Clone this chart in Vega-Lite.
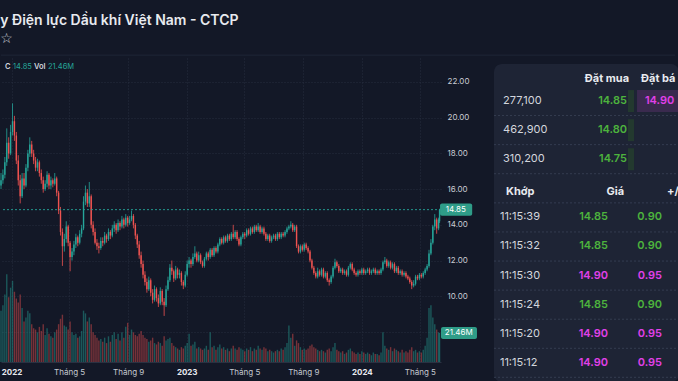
{
  "$schema": "https://vega.github.io/schema/vega-lite/v6.json",
  "padding": {"top": 13, "left": 0, "right": 0, "bottom": 0},
  "autosize": {"type": "pad"},
  "background": "#131827",
  "bounds": "flush",
  "spacing": 53,
  "title": {
    "text": "y Điện lực Dầu khí Việt Nam - CTCP",
    "subtitle": "☆",
    "anchor": "start",
    "font": "Inter",
    "fontSize": 14,
    "fontWeight": 600,
    "color": "#e8eaef",
    "subtitleFont": "DejaVu Sans",
    "subtitleFontSize": 14,
    "subtitleColor": "#d0d3da",
    "subtitlePadding": 4,
    "offset": 9
  },
  "datasets": {
    "ohlc": [
      {"d":"2021-12-10","o":16.2,"h":16.9,"l":16.0,"c":16.5,"v":38},
      {"d":"2021-12-14","o":16.5,"h":17.1,"l":16.3,"c":16.8,"v":42},
      {"d":"2021-12-18","o":16.8,"h":17.8,"l":16.6,"c":17.5,"v":50},
      {"d":"2021-12-22","o":17.5,"h":19.4,"l":17.3,"c":18.6,"v":65},
      {"d":"2021-12-26","o":18.6,"h":18.9,"l":17.7,"c":18.0,"v":48},
      {"d":"2021-12-30","o":18.0,"h":19.6,"l":17.9,"c":19.2,"v":55},
      {"d":"2022-01-03","o":19.2,"h":20.8,"l":19.0,"c":19.8,"v":60},
      {"d":"2022-01-07","o":19.8,"h":20.1,"l":18.7,"c":19.0,"v":52},
      {"d":"2022-01-11","o":19.0,"h":19.2,"l":17.4,"c":17.6,"v":47},
      {"d":"2022-01-15","o":17.6,"h":17.9,"l":16.2,"c":16.5,"v":44},
      {"d":"2022-01-19","o":16.5,"h":16.8,"l":15.2,"c":15.6,"v":50},
      {"d":"2022-01-23","o":15.6,"h":16.9,"l":15.5,"c":16.6,"v":40},
      {"d":"2022-01-27","o":16.6,"h":16.9,"l":16.0,"c":16.2,"v":30},
      {"d":"2022-01-31","o":16.2,"h":17.4,"l":16.1,"c":17.2,"v":33},
      {"d":"2022-02-04","o":17.2,"h":18.2,"l":17.0,"c":18.0,"v":38},
      {"d":"2022-02-08","o":18.0,"h":18.9,"l":17.8,"c":18.5,"v":36},
      {"d":"2022-02-12","o":18.5,"h":18.7,"l":17.8,"c":18.0,"v":28},
      {"d":"2022-02-16","o":18.0,"h":18.2,"l":17.4,"c":17.6,"v":25},
      {"d":"2022-02-20","o":17.6,"h":17.8,"l":17.0,"c":17.2,"v":24},
      {"d":"2022-02-24","o":17.2,"h":17.7,"l":17.0,"c":17.5,"v":22},
      {"d":"2022-02-28","o":17.5,"h":17.6,"l":16.7,"c":16.9,"v":26},
      {"d":"2022-03-04","o":16.9,"h":17.1,"l":16.3,"c":16.5,"v":23},
      {"d":"2022-03-08","o":16.5,"h":16.7,"l":15.8,"c":16.0,"v":28},
      {"d":"2022-03-12","o":16.0,"h":16.5,"l":15.9,"c":16.3,"v":20},
      {"d":"2022-03-16","o":16.3,"h":17.0,"l":16.1,"c":16.8,"v":25},
      {"d":"2022-03-20","o":16.8,"h":16.9,"l":16.0,"c":16.2,"v":21},
      {"d":"2022-03-24","o":16.2,"h":16.7,"l":16.0,"c":16.5,"v":19},
      {"d":"2022-03-28","o":16.5,"h":16.6,"l":16.1,"c":16.3,"v":18},
      {"d":"2022-04-01","o":16.3,"h":16.9,"l":16.2,"c":16.6,"v":22},
      {"d":"2022-04-05","o":16.6,"h":16.7,"l":15.6,"c":15.8,"v":24},
      {"d":"2022-04-09","o":15.8,"h":15.9,"l":14.6,"c":14.8,"v":28},
      {"d":"2022-04-13","o":14.8,"h":15.0,"l":13.4,"c":13.6,"v":32},
      {"d":"2022-04-17","o":13.6,"h":13.8,"l":11.7,"c":12.8,"v":35},
      {"d":"2022-04-21","o":12.8,"h":13.5,"l":12.5,"c":13.2,"v":27},
      {"d":"2022-04-25","o":13.2,"h":14.2,"l":13.0,"c":13.9,"v":26},
      {"d":"2022-04-29","o":13.9,"h":14.0,"l":12.8,"c":13.0,"v":24},
      {"d":"2022-05-03","o":13.0,"h":13.1,"l":11.4,"c":12.2,"v":30},
      {"d":"2022-05-07","o":12.2,"h":12.7,"l":12.0,"c":12.5,"v":22},
      {"d":"2022-05-11","o":12.5,"h":13.1,"l":12.3,"c":12.9,"v":20},
      {"d":"2022-05-15","o":12.9,"h":13.5,"l":12.7,"c":13.3,"v":21},
      {"d":"2022-05-19","o":13.3,"h":13.4,"l":12.8,"c":13.0,"v":18},
      {"d":"2022-05-23","o":13.0,"h":13.7,"l":12.9,"c":13.5,"v":19},
      {"d":"2022-05-27","o":13.5,"h":14.0,"l":13.3,"c":13.8,"v":23},
      {"d":"2022-05-31","o":13.8,"h":15.6,"l":13.7,"c":15.3,"v":38},
      {"d":"2022-06-04","o":15.3,"h":16.2,"l":15.1,"c":15.8,"v":36},
      {"d":"2022-06-08","o":15.8,"h":16.0,"l":15.0,"c":15.2,"v":30},
      {"d":"2022-06-12","o":15.2,"h":16.4,"l":15.0,"c":15.6,"v":33},
      {"d":"2022-06-16","o":15.6,"h":15.7,"l":13.8,"c":14.0,"v":28},
      {"d":"2022-06-20","o":14.0,"h":14.2,"l":13.4,"c":13.6,"v":22},
      {"d":"2022-06-24","o":13.6,"h":13.8,"l":12.9,"c":13.0,"v":20},
      {"d":"2022-06-28","o":13.0,"h":13.2,"l":12.6,"c":12.8,"v":18},
      {"d":"2022-07-02","o":12.8,"h":13.0,"l":12.4,"c":12.7,"v":16},
      {"d":"2022-07-06","o":12.7,"h":13.3,"l":12.6,"c":13.1,"v":17},
      {"d":"2022-07-10","o":13.1,"h":13.3,"l":12.8,"c":13.0,"v":15},
      {"d":"2022-07-14","o":13.0,"h":13.6,"l":12.9,"c":13.4,"v":18},
      {"d":"2022-07-18","o":13.4,"h":13.5,"l":13.0,"c":13.2,"v":14},
      {"d":"2022-07-22","o":13.2,"h":13.8,"l":13.1,"c":13.6,"v":19},
      {"d":"2022-07-26","o":13.6,"h":13.7,"l":13.2,"c":13.4,"v":15},
      {"d":"2022-07-30","o":13.4,"h":14.0,"l":13.3,"c":13.8,"v":20},
      {"d":"2022-08-03","o":13.8,"h":14.2,"l":13.6,"c":14.0,"v":22},
      {"d":"2022-08-07","o":14.0,"h":14.1,"l":13.5,"c":13.7,"v":17},
      {"d":"2022-08-11","o":13.7,"h":14.3,"l":13.6,"c":14.1,"v":21},
      {"d":"2022-08-15","o":14.1,"h":14.2,"l":13.7,"c":13.9,"v":16},
      {"d":"2022-08-19","o":13.9,"h":14.5,"l":13.8,"c":14.3,"v":22},
      {"d":"2022-08-23","o":14.3,"h":14.4,"l":13.8,"c":14.0,"v":18},
      {"d":"2022-08-27","o":14.0,"h":14.6,"l":13.9,"c":14.4,"v":26},
      {"d":"2022-08-31","o":14.4,"h":14.5,"l":13.9,"c":14.1,"v":29},
      {"d":"2022-09-04","o":14.1,"h":14.5,"l":14.0,"c":14.3,"v":20},
      {"d":"2022-09-08","o":14.3,"h":14.8,"l":14.2,"c":14.5,"v":24},
      {"d":"2022-09-12","o":14.5,"h":14.6,"l":13.8,"c":14.0,"v":22},
      {"d":"2022-09-16","o":14.0,"h":14.1,"l":13.2,"c":13.4,"v":20},
      {"d":"2022-09-20","o":13.4,"h":13.5,"l":12.7,"c":12.9,"v":19},
      {"d":"2022-09-24","o":12.9,"h":13.1,"l":12.1,"c":12.3,"v":21},
      {"d":"2022-09-28","o":12.3,"h":12.5,"l":11.6,"c":11.8,"v":23},
      {"d":"2022-10-02","o":11.8,"h":12.0,"l":11.0,"c":11.2,"v":20},
      {"d":"2022-10-06","o":11.2,"h":11.4,"l":10.6,"c":10.8,"v":18},
      {"d":"2022-10-10","o":10.8,"h":11.0,"l":10.2,"c":10.4,"v":17},
      {"d":"2022-10-14","o":10.4,"h":11.1,"l":10.3,"c":10.9,"v":15},
      {"d":"2022-10-18","o":10.9,"h":11.0,"l":10.0,"c":10.2,"v":16},
      {"d":"2022-10-22","o":10.2,"h":10.4,"l":9.6,"c":9.8,"v":18},
      {"d":"2022-10-26","o":9.8,"h":10.6,"l":9.7,"c":10.4,"v":14},
      {"d":"2022-10-30","o":10.4,"h":10.5,"l":9.7,"c":9.9,"v":13},
      {"d":"2022-11-03","o":9.9,"h":10.1,"l":9.4,"c":9.6,"v":15},
      {"d":"2022-11-07","o":9.6,"h":10.5,"l":9.5,"c":10.3,"v":14},
      {"d":"2022-11-11","o":10.3,"h":10.4,"l":9.5,"c":9.7,"v":12},
      {"d":"2022-11-15","o":9.7,"h":9.9,"l":8.9,"c":9.5,"v":19},
      {"d":"2022-11-19","o":9.5,"h":10.6,"l":9.4,"c":10.4,"v":16},
      {"d":"2022-11-23","o":10.4,"h":11.1,"l":10.3,"c":10.9,"v":17},
      {"d":"2022-11-27","o":10.9,"h":11.8,"l":10.8,"c":11.6,"v":18},
      {"d":"2022-12-01","o":11.6,"h":12.0,"l":11.2,"c":11.4,"v":14},
      {"d":"2022-12-05","o":11.4,"h":11.5,"l":10.8,"c":11.0,"v":12},
      {"d":"2022-12-09","o":11.0,"h":11.7,"l":10.9,"c":11.5,"v":11},
      {"d":"2022-12-13","o":11.5,"h":11.6,"l":11.0,"c":11.2,"v":10},
      {"d":"2022-12-17","o":11.2,"h":11.5,"l":11.0,"c":11.3,"v":9},
      {"d":"2022-12-21","o":11.3,"h":11.4,"l":10.6,"c":10.8,"v":11},
      {"d":"2022-12-25","o":10.8,"h":10.9,"l":10.4,"c":10.6,"v":10},
      {"d":"2022-12-29","o":10.6,"h":11.4,"l":10.5,"c":11.2,"v":12},
      {"d":"2023-01-02","o":11.2,"h":12.0,"l":11.1,"c":11.8,"v":14},
      {"d":"2023-01-06","o":11.8,"h":12.2,"l":11.6,"c":12.0,"v":21},
      {"d":"2023-01-10","o":12.0,"h":12.1,"l":11.6,"c":11.8,"v":12},
      {"d":"2023-01-14","o":11.8,"h":12.4,"l":11.7,"c":12.2,"v":13},
      {"d":"2023-01-18","o":12.2,"h":12.8,"l":12.1,"c":12.4,"v":15},
      {"d":"2023-01-22","o":12.4,"h":12.5,"l":11.9,"c":12.0,"v":10},
      {"d":"2023-01-26","o":12.0,"h":12.5,"l":11.9,"c":12.3,"v":11},
      {"d":"2023-01-30","o":12.3,"h":12.4,"l":11.8,"c":11.9,"v":10},
      {"d":"2023-02-03","o":11.9,"h":12.0,"l":11.6,"c":11.7,"v":9},
      {"d":"2023-02-07","o":11.7,"h":12.2,"l":11.6,"c":12.1,"v":10},
      {"d":"2023-02-11","o":12.1,"h":12.5,"l":12.0,"c":12.4,"v":12},
      {"d":"2023-02-15","o":12.4,"h":12.5,"l":12.0,"c":12.2,"v":9},
      {"d":"2023-02-19","o":12.2,"h":12.7,"l":12.1,"c":12.6,"v":22},
      {"d":"2023-02-23","o":12.6,"h":12.7,"l":12.2,"c":12.3,"v":11},
      {"d":"2023-02-27","o":12.3,"h":12.8,"l":12.2,"c":12.7,"v":12},
      {"d":"2023-03-03","o":12.7,"h":12.8,"l":12.4,"c":12.5,"v":9},
      {"d":"2023-03-07","o":12.5,"h":13.0,"l":12.4,"c":12.9,"v":11},
      {"d":"2023-03-11","o":12.9,"h":13.3,"l":12.8,"c":13.2,"v":13},
      {"d":"2023-03-15","o":13.2,"h":13.3,"l":12.9,"c":13.0,"v":10},
      {"d":"2023-03-19","o":13.0,"h":13.4,"l":12.9,"c":13.3,"v":11},
      {"d":"2023-03-23","o":13.3,"h":13.4,"l":13.0,"c":13.1,"v":9},
      {"d":"2023-03-27","o":13.1,"h":13.5,"l":13.0,"c":13.4,"v":10},
      {"d":"2023-03-31","o":13.4,"h":13.5,"l":13.1,"c":13.2,"v":8},
      {"d":"2023-04-04","o":13.2,"h":13.6,"l":13.1,"c":13.5,"v":10},
      {"d":"2023-04-08","o":13.5,"h":14.0,"l":13.2,"c":13.3,"v":12},
      {"d":"2023-04-12","o":13.3,"h":13.7,"l":13.2,"c":13.6,"v":10},
      {"d":"2023-04-16","o":13.6,"h":13.7,"l":13.1,"c":13.2,"v":9},
      {"d":"2023-04-20","o":13.2,"h":13.3,"l":12.8,"c":12.9,"v":11},
      {"d":"2023-04-24","o":12.9,"h":13.4,"l":12.8,"c":13.3,"v":10},
      {"d":"2023-04-28","o":13.3,"h":13.6,"l":13.2,"c":13.5,"v":9},
      {"d":"2023-05-02","o":13.5,"h":13.6,"l":13.2,"c":13.4,"v":8},
      {"d":"2023-05-06","o":13.4,"h":13.8,"l":13.3,"c":13.7,"v":10},
      {"d":"2023-05-10","o":13.7,"h":13.8,"l":13.4,"c":13.5,"v":9},
      {"d":"2023-05-14","o":13.5,"h":13.9,"l":13.4,"c":13.8,"v":11},
      {"d":"2023-05-18","o":13.8,"h":13.9,"l":13.5,"c":13.6,"v":8},
      {"d":"2023-05-22","o":13.6,"h":14.0,"l":13.5,"c":13.9,"v":10},
      {"d":"2023-05-26","o":13.9,"h":14.0,"l":13.6,"c":13.7,"v":9},
      {"d":"2023-05-30","o":13.7,"h":14.1,"l":13.6,"c":13.9,"v":12},
      {"d":"2023-06-03","o":13.9,"h":14.0,"l":13.5,"c":13.6,"v":10},
      {"d":"2023-06-07","o":13.6,"h":13.9,"l":13.5,"c":13.8,"v":9},
      {"d":"2023-06-11","o":13.8,"h":13.9,"l":13.4,"c":13.5,"v":11},
      {"d":"2023-06-15","o":13.5,"h":13.6,"l":13.1,"c":13.2,"v":10},
      {"d":"2023-06-19","o":13.2,"h":13.5,"l":13.1,"c":13.4,"v":8},
      {"d":"2023-06-23","o":13.4,"h":13.5,"l":13.0,"c":13.1,"v":9},
      {"d":"2023-06-27","o":13.1,"h":13.4,"l":13.0,"c":13.3,"v":8},
      {"d":"2023-07-01","o":13.3,"h":13.5,"l":13.2,"c":13.4,"v":7},
      {"d":"2023-07-05","o":13.4,"h":13.5,"l":13.1,"c":13.2,"v":8},
      {"d":"2023-07-09","o":13.2,"h":13.6,"l":13.1,"c":13.5,"v":9},
      {"d":"2023-07-13","o":13.5,"h":13.6,"l":13.2,"c":13.3,"v":8},
      {"d":"2023-07-17","o":13.3,"h":13.6,"l":13.2,"c":13.5,"v":10},
      {"d":"2023-07-21","o":13.5,"h":13.6,"l":13.3,"c":13.4,"v":9},
      {"d":"2023-07-25","o":13.4,"h":13.7,"l":13.3,"c":13.6,"v":11},
      {"d":"2023-07-29","o":13.6,"h":13.9,"l":13.5,"c":13.8,"v":14},
      {"d":"2023-08-02","o":13.8,"h":14.0,"l":13.7,"c":13.9,"v":27},
      {"d":"2023-08-06","o":13.9,"h":14.2,"l":13.8,"c":14.0,"v":18},
      {"d":"2023-08-10","o":14.0,"h":14.1,"l":13.6,"c":13.7,"v":21},
      {"d":"2023-08-14","o":13.7,"h":14.0,"l":13.6,"c":13.9,"v":12},
      {"d":"2023-08-18","o":13.9,"h":14.0,"l":12.7,"c":12.8,"v":16},
      {"d":"2023-08-22","o":12.8,"h":12.9,"l":12.4,"c":12.5,"v":14},
      {"d":"2023-08-26","o":12.5,"h":12.9,"l":12.4,"c":12.8,"v":11},
      {"d":"2023-08-30","o":12.8,"h":12.9,"l":12.5,"c":12.6,"v":9},
      {"d":"2023-09-03","o":12.6,"h":13.0,"l":12.5,"c":12.9,"v":10},
      {"d":"2023-09-07","o":12.9,"h":13.0,"l":12.6,"c":12.7,"v":9},
      {"d":"2023-09-11","o":12.7,"h":12.8,"l":12.4,"c":12.5,"v":10},
      {"d":"2023-09-15","o":12.5,"h":12.6,"l":11.9,"c":12.0,"v":12},
      {"d":"2023-09-19","o":12.0,"h":12.1,"l":11.5,"c":11.6,"v":13},
      {"d":"2023-09-23","o":11.6,"h":11.7,"l":11.2,"c":11.3,"v":11},
      {"d":"2023-09-27","o":11.3,"h":11.4,"l":11.0,"c":11.1,"v":10},
      {"d":"2023-10-01","o":11.1,"h":11.6,"l":11.0,"c":11.4,"v":9},
      {"d":"2023-10-05","o":11.4,"h":11.5,"l":11.1,"c":11.2,"v":8},
      {"d":"2023-10-09","o":11.2,"h":11.6,"l":11.1,"c":11.5,"v":9},
      {"d":"2023-10-13","o":11.5,"h":11.6,"l":11.0,"c":11.1,"v":8},
      {"d":"2023-10-17","o":11.1,"h":11.4,"l":11.0,"c":11.3,"v":7},
      {"d":"2023-10-21","o":11.3,"h":11.4,"l":10.8,"c":10.9,"v":9},
      {"d":"2023-10-25","o":10.9,"h":11.0,"l":10.6,"c":10.8,"v":10},
      {"d":"2023-10-29","o":10.8,"h":11.2,"l":10.7,"c":11.1,"v":8},
      {"d":"2023-11-02","o":11.1,"h":11.7,"l":11.0,"c":11.6,"v":11},
      {"d":"2023-11-06","o":11.6,"h":12.1,"l":11.5,"c":11.9,"v":14},
      {"d":"2023-11-10","o":11.9,"h":12.0,"l":11.6,"c":11.7,"v":9},
      {"d":"2023-11-14","o":11.7,"h":11.8,"l":11.3,"c":11.4,"v":8},
      {"d":"2023-11-18","o":11.4,"h":11.6,"l":11.3,"c":11.5,"v":7},
      {"d":"2023-11-22","o":11.5,"h":11.6,"l":11.2,"c":11.3,"v":8},
      {"d":"2023-11-26","o":11.3,"h":11.5,"l":11.2,"c":11.4,"v":6},
      {"d":"2023-11-30","o":11.4,"h":11.5,"l":11.1,"c":11.2,"v":7},
      {"d":"2023-12-04","o":11.2,"h":11.7,"l":11.1,"c":11.6,"v":9},
      {"d":"2023-12-08","o":11.6,"h":11.9,"l":11.5,"c":11.8,"v":10},
      {"d":"2023-12-12","o":11.8,"h":11.9,"l":11.4,"c":11.5,"v":8},
      {"d":"2023-12-16","o":11.5,"h":11.6,"l":11.2,"c":11.3,"v":7},
      {"d":"2023-12-20","o":11.3,"h":11.4,"l":11.1,"c":11.2,"v":6},
      {"d":"2023-12-24","o":11.2,"h":11.5,"l":11.1,"c":11.4,"v":7},
      {"d":"2023-12-28","o":11.4,"h":11.5,"l":11.2,"c":11.3,"v":6},
      {"d":"2024-01-01","o":11.3,"h":11.6,"l":11.2,"c":11.5,"v":8},
      {"d":"2024-01-05","o":11.5,"h":11.6,"l":11.2,"c":11.3,"v":7},
      {"d":"2024-01-09","o":11.3,"h":11.5,"l":11.2,"c":11.4,"v":6},
      {"d":"2024-01-13","o":11.4,"h":11.6,"l":11.3,"c":11.5,"v":7},
      {"d":"2024-01-17","o":11.5,"h":11.6,"l":11.2,"c":11.3,"v":6},
      {"d":"2024-01-21","o":11.3,"h":11.5,"l":11.2,"c":11.4,"v":5},
      {"d":"2024-01-25","o":11.4,"h":11.6,"l":11.3,"c":11.5,"v":7},
      {"d":"2024-01-29","o":11.5,"h":11.6,"l":11.2,"c":11.3,"v":6},
      {"d":"2024-02-02","o":11.3,"h":11.5,"l":11.2,"c":11.4,"v":6},
      {"d":"2024-02-06","o":11.4,"h":11.5,"l":11.2,"c":11.3,"v":5},
      {"d":"2024-02-10","o":11.3,"h":11.6,"l":11.2,"c":11.5,"v":7},
      {"d":"2024-02-14","o":11.5,"h":12.0,"l":11.4,"c":11.9,"v":22},
      {"d":"2024-02-18","o":11.9,"h":12.2,"l":11.8,"c":12.0,"v":12},
      {"d":"2024-02-22","o":12.0,"h":12.1,"l":11.6,"c":11.7,"v":10},
      {"d":"2024-02-26","o":11.7,"h":12.0,"l":11.6,"c":11.9,"v":9},
      {"d":"2024-03-01","o":11.9,"h":12.0,"l":11.5,"c":11.6,"v":11},
      {"d":"2024-03-05","o":11.6,"h":11.9,"l":11.5,"c":11.8,"v":8},
      {"d":"2024-03-09","o":11.8,"h":11.9,"l":11.3,"c":11.4,"v":10},
      {"d":"2024-03-13","o":11.4,"h":11.7,"l":11.3,"c":11.6,"v":9},
      {"d":"2024-03-17","o":11.6,"h":11.7,"l":11.2,"c":11.3,"v":8},
      {"d":"2024-03-21","o":11.3,"h":11.5,"l":11.2,"c":11.4,"v":7},
      {"d":"2024-03-25","o":11.4,"h":11.5,"l":11.1,"c":11.2,"v":9},
      {"d":"2024-03-29","o":11.2,"h":11.4,"l":11.1,"c":11.3,"v":7},
      {"d":"2024-04-02","o":11.3,"h":11.4,"l":11.0,"c":11.1,"v":8},
      {"d":"2024-04-06","o":11.1,"h":11.2,"l":10.9,"c":11.0,"v":7},
      {"d":"2024-04-10","o":11.0,"h":11.1,"l":10.7,"c":10.8,"v":9},
      {"d":"2024-04-14","o":10.8,"h":10.9,"l":10.4,"c":10.6,"v":11},
      {"d":"2024-04-18","o":10.6,"h":10.9,"l":10.5,"c":10.7,"v":8},
      {"d":"2024-04-22","o":10.7,"h":11.2,"l":10.6,"c":11.1,"v":9},
      {"d":"2024-04-26","o":11.1,"h":11.2,"l":10.9,"c":11.0,"v":7},
      {"d":"2024-04-30","o":11.0,"h":11.3,"l":10.9,"c":11.2,"v":8},
      {"d":"2024-05-04","o":11.2,"h":11.3,"l":11.0,"c":11.1,"v":7},
      {"d":"2024-05-08","o":11.1,"h":11.4,"l":11.0,"c":11.3,"v":9},
      {"d":"2024-05-12","o":11.3,"h":11.6,"l":11.2,"c":11.5,"v":12},
      {"d":"2024-05-16","o":11.5,"h":11.8,"l":11.4,"c":11.7,"v":18},
      {"d":"2024-05-20","o":11.7,"h":12.6,"l":11.6,"c":12.4,"v":40},
      {"d":"2024-05-24","o":12.4,"h":13.2,"l":12.3,"c":13.0,"v":42},
      {"d":"2024-05-28","o":13.0,"h":14.0,"l":12.9,"c":13.9,"v":33},
      {"d":"2024-06-01","o":13.9,"h":14.6,"l":13.7,"c":14.3,"v":28},
      {"d":"2024-06-05","o":14.3,"h":14.4,"l":13.5,"c":13.8,"v":24},
      {"d":"2024-06-09","o":13.8,"h":14.4,"l":13.7,"c":14.3,"v":22},
      {"d":"2024-06-11","o":14.2,"h":14.9,"l":14.1,"c":14.85,"v":21.46}
    ],
    "book": [
      {"row": 1, "qty": "277,100", "bid": "14.85", "ask": "14.90"},
      {"row": 2, "qty": "462,900", "bid": "14.80", "ask": ""},
      {"row": 3, "qty": "310,200", "bid": "14.75", "ask": ""}
    ],
    "trades": [
      {"row": 5, "time": "11:15:39", "price": "14.85", "chg": "0.90", "side": "mua"},
      {"row": 6, "time": "11:15:32", "price": "14.85", "chg": "0.90", "side": "mua"},
      {"row": 7, "time": "11:15:30", "price": "14.90", "chg": "0.95", "side": "bán"},
      {"row": 8, "time": "11:15:24", "price": "14.85", "chg": "0.90", "side": "mua"},
      {"row": 9, "time": "11:15:20", "price": "14.90", "chg": "0.95", "side": "bán"},
      {"row": 10, "time": "11:15:12", "price": "14.90", "chg": "0.95", "side": "bán"}
    ]
  },
  "hconcat": [
    {
      "width": 440,
      "height": 304,
      "view": {"stroke": null},
      "layer": [
        {
          "data": {"name": "ohlc"},
          "layer": [
            {
              "mark": {"type": "rule", "strokeWidth": 0.8},
              "encoding": {
                "x": {
                  "field": "d", "type": "temporal", "title": null,
                  "scale": {"domain": [{"year": 2021, "month": 12, "date": 10}, {"year": 2024, "month": 6, "date": 14}], "nice": false, "padding": 0},
                  "axis": {
                    "values": [
                      {"year": 2022, "month": 1, "date": 1}, {"year": 2022, "month": 5, "date": 1}, {"year": 2022, "month": 9, "date": 1},
                      {"year": 2023, "month": 1, "date": 1}, {"year": 2023, "month": 5, "date": 1}, {"year": 2023, "month": 9, "date": 1},
                      {"year": 2024, "month": 1, "date": 1}, {"year": 2024, "month": 5, "date": 1}
                    ],
                    "labelExpr": "month(datum.value) == 0 ? timeFormat(datum.value, '%Y') : 'Tháng ' + (month(datum.value) + 1)",
                    "labelFontWeight": {"condition": {"test": "month(datum.value) == 0", "value": "bold"}, "value": "normal"},
                    "labelColor": {"condition": {"test": "month(datum.value) == 0", "value": "#e8eaef"}, "value": "#c4c8d0"},
                    "labelFont": "Inter", "labelFontSize": 8, "labelPadding": 6,
                    "labelOverlap": false, "labelFlush": false, "labelBound": false,
                    "ticks": false, "domain": true, "domainColor": "#2a3142",
                    "grid": true, "gridColor": "#262d3f", "gridDash": [1, 2]
                  }
                },
                "y": {
                  "field": "l", "type": "quantitative", "title": null,
                  "scale": {"domain": [6.32, 23.34], "nice": false, "zero": false, "padding": 0},
                  "axis": {
                    "orient": "right",
                    "values": [8, 10, 12, 14, 16, 18, 20, 22],
                    "labelExpr": "datum.value < 9 ? '' : format(datum.value, '.2f')",
                    "labelFont": "Inter", "labelFontSize": 8, "labelColor": "#c9ccd4", "labelPadding": 6,
                    "ticks": false, "domain": false,
                    "grid": true, "gridColor": "#262d3f", "gridDash": [1, 2]
                  }
                },
                "y2": {"field": "h"},
                "color": {"condition": {"test": "datum.c >= datum.o", "value": "#26a69a"}, "value": "#ef5350"}
              }
            },
            {
              "mark": {"type": "bar", "width": 1.4},
              "encoding": {
                "x": {"field": "d", "type": "temporal"},
                "y": {"field": "o", "type": "quantitative"},
                "y2": {"field": "c"},
                "color": {"condition": {"test": "datum.c >= datum.o", "value": "#26a69a"}, "value": "#ef5350"}
              }
            },
            {
              "data": {"values": [{"p": 14.85}]},
              "mark": {"type": "rule", "color": "#26a69a", "strokeDash": [2, 2], "strokeWidth": 1, "opacity": 0.9},
              "encoding": {
                "y": {"field": "p", "type": "quantitative"}
              }
            },
            {
              "data": {"values": [{"p": 14.85}]},
              "mark": {"type": "rect", "color": "#2f9c88", "cornerRadius": 2},
              "encoding": {
                "x": {"datum": {"year": 2024, "month": 6, "date": 12}, "type": "temporal"},
                "x2": {"datum": {"year": 2024, "month": 8, "date": 18}},
                "y": {"datum": 14.51, "type": "quantitative"},
                "y2": {"datum": 15.19}
              }
            },
            {
              "data": {"values": [{"p": 14.85}]},
              "mark": {"type": "text", "color": "#ffffff", "font": "Inter", "fontSize": 8, "align": "center", "baseline": "middle"},
              "encoding": {
                "x": {"datum": {"year": 2024, "month": 7, "date": 15}, "type": "temporal"},
                "y": {"field": "p", "type": "quantitative"},
                "text": {"field": "p", "type": "quantitative", "format": ".2f"}
              }
            },
            {
              "data": {"values": [{}]},
              "mark": {"type": "rule", "color": "#1f2636", "strokeWidth": 1},
              "encoding": {
                "x": {"datum": {"year": 2021, "month": 12, "date": 10}, "type": "temporal"},
                "x2": {"datum": {"year": 2025, "month": 10, "date": 15}},
                "y": {"datum": 23.5, "type": "quantitative"}
              }
            },
            {
              "data": {"values": [{"t": "C"}]},
              "mark": {"type": "text", "color": "#d1d4dc", "font": "Inter", "fontSize": 7.5, "fontWeight": 600, "align": "left", "baseline": "middle", "dx": 4},
              "encoding": {
                "x": {"datum": {"year": 2021, "month": 12, "date": 10}, "type": "temporal"},
                "y": {"datum": 22.84, "type": "quantitative"},
                "text": {"field": "t"}
              }
            },
            {
              "data": {"values": [{"t": "14.85"}]},
              "mark": {"type": "text", "color": "#26a69a", "font": "Inter", "fontSize": 7.5, "align": "left", "baseline": "middle", "dx": 12},
              "encoding": {
                "x": {"datum": {"year": 2021, "month": 12, "date": 10}, "type": "temporal"},
                "y": {"datum": 22.84, "type": "quantitative"},
                "text": {"field": "t"}
              }
            },
            {
              "data": {"values": [{"t": "Vol"}]},
              "mark": {"type": "text", "color": "#d1d4dc", "font": "Inter", "fontSize": 7.5, "fontWeight": 600, "align": "left", "baseline": "middle", "dx": 33},
              "encoding": {
                "x": {"datum": {"year": 2021, "month": 12, "date": 10}, "type": "temporal"},
                "y": {"datum": 22.84, "type": "quantitative"},
                "text": {"field": "t"}
              }
            },
            {
              "data": {"values": [{"t": "21.46M"}]},
              "mark": {"type": "text", "color": "#26a69a", "font": "Inter", "fontSize": 7.5, "align": "left", "baseline": "middle", "dx": 47},
              "encoding": {
                "x": {"datum": {"year": 2021, "month": 12, "date": 10}, "type": "temporal"},
                "y": {"datum": 22.84, "type": "quantitative"},
                "text": {"field": "t"}
              }
            }
          ]
        },
        {
          "data": {"name": "ohlc"},
          "layer": [
            {
              "mark": {"type": "bar", "width": 1.4, "opacity": 0.45},
              "encoding": {
                "x": {"field": "d", "type": "temporal"},
                "y": {"field": "v", "type": "quantitative", "scale": {"domain": [0, 225], "nice": false, "padding": 0}, "axis": null},
                "color": {"condition": {"test": "datum.c >= datum.o", "value": "#26a69a"}, "value": "#ef5350"}
              }
            },
            {
              "data": {"values": [{"v": 21.46}]},
              "mark": {"type": "rect", "color": "#2f9c88", "cornerRadius": 2},
              "encoding": {
                "x": {"datum": {"year": 2024, "month": 6, "date": 14}, "type": "temporal"},
                "x2": {"datum": {"year": 2024, "month": 8, "date": 28}},
                "y": {"datum": 17.0, "type": "quantitative"},
                "y2": {"datum": 25.9}
              }
            },
            {
              "data": {"values": [{"v": "21.46M", "p": 21.46}]},
              "mark": {"type": "text", "color": "#ffffff", "font": "Inter", "fontSize": 8, "align": "center", "baseline": "middle"},
              "encoding": {
                "x": {"datum": {"year": 2024, "month": 7, "date": 21}, "type": "temporal"},
                "y": {"field": "p", "type": "quantitative"},
                "text": {"field": "v"}
              }
            }
          ]
        }
      ],
      "resolve": {"scale": {"y": "independent"}}
    },
    {
      "width": 185,
      "height": 324,
      "view": {"stroke": null},
      "layer": [
        {
          "data": {"values": [{}]},
          "mark": {"type": "rect", "fill": "#1e2435", "cornerRadius": 8},
          "encoding": {
            "x": {"datum": 0, "type": "quantitative", "scale": {"domain": [0, 100], "nice": false, "zero": false, "padding": 0}, "axis": null},
            "x2": {"datum": 100},
            "y": {"datum": -0.27, "type": "quantitative", "scale": {"domain": [-0.48, 10.66], "nice": false, "zero": false, "reverse": true, "padding": 0}, "axis": null},
            "y2": {"datum": 10.66}
          }
        },
        {
          "data": {"name": "book"},
          "mark": {"type": "rule", "color": "#343c50", "strokeDash": [2, 2], "yOffset": 14.5},
          "encoding": {"x": {"datum": 0}, "x2": {"datum": 100}, "y": {"field": "row", "type": "quantitative"}}
        },
        {
          "data": {"name": "trades"},
          "mark": {"type": "rule", "color": "#343c50", "strokeDash": [2, 2], "yOffset": -14.5},
          "encoding": {"x": {"datum": 0}, "x2": {"datum": 100}, "y": {"field": "row", "type": "quantitative"}}
        },
        {
          "data": {"name": "trades"},
          "transform": [{"filter": "datum.row == 10"}],
          "mark": {"type": "rule", "color": "#343c50", "strokeDash": [2, 2], "yOffset": 14.5},
          "encoding": {"x": {"datum": 0}, "x2": {"datum": 100}, "y": {"field": "row", "type": "quantitative"}}
        },
        {
          "data": {"name": "book"},
          "mark": {"type": "bar", "color": "#23392f", "height": 22},
          "encoding": {"x": {"datum": 72.4}, "x2": {"datum": 75.7}, "y": {"field": "row", "type": "quantitative"}}
        },
        {
          "data": {"name": "book"},
          "transform": [{"filter": "datum.ask != ''"}],
          "mark": {"type": "bar", "color": "#3a2a4e", "height": 22},
          "encoding": {"x": {"datum": 77.3}, "x2": {"datum": 100}, "y": {"field": "row", "type": "quantitative"}}
        },
        {
          "data": {"values": [{"t": "Đặt mua"}]},
          "mark": {"type": "text", "font": "Inter", "fontSize": 11, "fontWeight": "bold", "color": "#e8eaef", "align": "right", "baseline": "middle", "dy": 7},
          "encoding": {"x": {"datum": 73.0}, "y": {"datum": 0}, "text": {"field": "t"}}
        },
        {
          "data": {"values": [{"t": "Đặt bán"}]},
          "mark": {"type": "text", "font": "Inter", "fontSize": 11, "fontWeight": "bold", "color": "#e8eaef", "align": "left", "baseline": "middle", "dy": 7, "limit": 38, "ellipsis": "\u200b"},
          "encoding": {"x": {"datum": 79.5}, "y": {"datum": 0}, "text": {"field": "t"}}
        },
        {
          "data": {"name": "book"},
          "mark": {"type": "text", "font": "Inter", "fontSize": 11, "color": "#d3d6dd", "align": "left", "baseline": "middle"},
          "encoding": {"x": {"datum": 4.9}, "y": {"field": "row", "type": "quantitative"}, "text": {"field": "qty"}}
        },
        {
          "data": {"name": "book"},
          "mark": {"type": "text", "font": "Inter", "fontSize": 11, "fontWeight": 600, "color": "#4db33d", "align": "right", "baseline": "middle"},
          "encoding": {"x": {"datum": 71.9}, "y": {"field": "row", "type": "quantitative"}, "text": {"field": "bid"}}
        },
        {
          "data": {"name": "book"},
          "mark": {"type": "text", "font": "Inter", "fontSize": 11, "fontWeight": 600, "color": "#e040e8", "align": "left", "baseline": "middle"},
          "encoding": {"x": {"datum": 81.6}, "y": {"field": "row", "type": "quantitative"}, "text": {"field": "ask"}}
        },
        {
          "data": {"values": [{"t": "Khớp"}]},
          "mark": {"type": "text", "font": "Inter", "fontSize": 11, "fontWeight": "bold", "color": "#e8eaef", "align": "left", "baseline": "middle", "dy": 4},
          "encoding": {"x": {"datum": 6.5}, "y": {"datum": 4}, "text": {"field": "t"}}
        },
        {
          "data": {"values": [{"t": "Giá"}]},
          "mark": {"type": "text", "font": "Inter", "fontSize": 11, "fontWeight": "bold", "color": "#e8eaef", "align": "right", "baseline": "middle", "dy": 4},
          "encoding": {"x": {"datum": 70.3}, "y": {"datum": 4}, "text": {"field": "t"}}
        },
        {
          "data": {"values": [{"t": "+/-"}]},
          "mark": {"type": "text", "font": "Inter", "fontSize": 11, "fontWeight": "bold", "color": "#e8eaef", "align": "left", "baseline": "middle", "dy": 4, "limit": 14, "ellipsis": "\u200b"},
          "encoding": {"x": {"datum": 93.5}, "y": {"datum": 4}, "text": {"field": "t"}}
        },
        {
          "data": {"name": "trades"},
          "mark": {"type": "text", "font": "Inter", "fontSize": 11, "color": "#d3d6dd", "align": "left", "baseline": "middle"},
          "encoding": {"x": {"datum": 3.2}, "y": {"field": "row", "type": "quantitative"}, "text": {"field": "time"}}
        },
        {
          "data": {"name": "trades"},
          "mark": {"type": "text", "font": "Inter", "fontSize": 11, "fontWeight": 600, "align": "right", "baseline": "middle"},
          "encoding": {
            "x": {"datum": 61.6}, "y": {"field": "row", "type": "quantitative"}, "text": {"field": "price"},
            "color": {"field": "side", "type": "nominal", "scale": {"domain": ["mua", "bán"], "range": ["#4db33d", "#e040e8"]}, "legend": null}
          }
        },
        {
          "data": {"name": "trades"},
          "mark": {"type": "text", "font": "Inter", "fontSize": 11, "fontWeight": 600, "align": "right", "baseline": "middle"},
          "encoding": {
            "x": {"datum": 90.8}, "y": {"field": "row", "type": "quantitative"}, "text": {"field": "chg"},
            "color": {"field": "side", "type": "nominal", "scale": {"domain": ["mua", "bán"], "range": ["#4db33d", "#e040e8"]}, "legend": null}
          }
        }
      ]
    }
  ],
  "config": {
    "view": {"stroke": null},
    "font": "Inter",
    "axis": {"title": null}
  }
}
